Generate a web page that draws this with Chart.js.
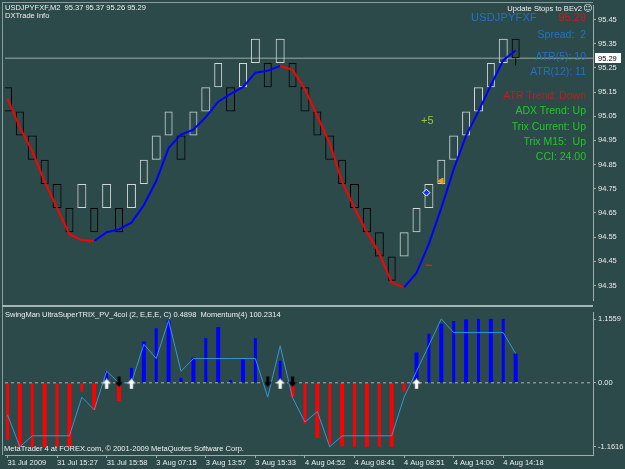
<!DOCTYPE html>
<html><head><meta charset="utf-8">
<script src="https://cdn.jsdelivr.net/npm/chart.js@4.4.1/dist/chart.umd.min.js"></script>
<style>
html,body{margin:0;padding:0;background:#2c4a4a;width:625px;height:469px;overflow:hidden;}
#wrap{position:relative;width:625px;height:469px;font-family:"Liberation Sans",Arial,sans-serif;}
canvas{position:absolute;left:0;}
.t{position:absolute;white-space:pre;line-height:1;}
.r{text-align:right;right:39px;}
.line{position:absolute;background:#8c9c9c;}
</style></head><body><div id="wrap">
<canvas id="main" width="625" height="305" style="top:0"></canvas>
<canvas id="sub" width="625" height="162" style="top:307px"></canvas>
<div class="line" style="left:2px;top:2px;width:591px;height:1px;"></div>
<div class="line" style="left:2px;top:2px;width:1px;height:453px;"></div>
<div class="line" style="left:2px;top:305px;width:591px;height:2px;background:#a8b4b4;"></div>

<div class="t" style="left:5px;top:4px;font-size:7.5px;color:#f0f0f0;">USDJPYFXF,M2  95.37 95.37 95.26 95.29</div>
<div class="t" style="left:5px;top:12px;font-size:7.5px;color:#f0f0f0;">DXTrade Info</div>
<div class="t" style="right:43px;top:5px;font-size:7.6px;color:#f0f0f0;">Update Stops to BEv2</div>
<div class="t" style="left:583px;top:4px;font-size:9px;color:#f0f0f0;font-family:'DejaVu Sans';">☺</div>
<div class="t" style="left:471px;top:11.6px;font-size:11px;color:#2272c8;letter-spacing:0.2px;">USDJPYFXF</div>
<div class="t r" style="top:11.6px;font-size:11px;color:#e01414;">95.29</div>
<div class="t r" style="top:28.7px;font-size:10.5px;color:#2272c8;">Spread:  2</div>
<div class="t r" style="top:50.7px;font-size:10.5px;color:#2272c8;">ATR(5): 10</div>
<div class="t r" style="top:65.7px;font-size:10.5px;color:#2272c8;">ATR(12): 11</div>
<div class="t r" style="top:89.7px;font-size:10.5px;color:#c81a1a;">ATR Trend: Down</div>
<div class="t r" style="top:104.7px;font-size:10.5px;color:#22c822;">ADX Trend: Up</div>
<div class="t r" style="top:120.7px;font-size:10.5px;color:#22c822;">Trix Current: Up</div>
<div class="t r" style="top:135.7px;font-size:10.5px;color:#22c822;">Trix M15:  Up</div>
<div class="t r" style="top:150.7px;font-size:10.5px;color:#22c822;">CCI: 24.00</div>
<div class="t" style="left:421px;top:114.6px;font-size:11px;color:#9ac832;">+5</div>
<div class="t" style="left:5px;top:311px;font-size:7.5px;color:#f0f0f0;">SwingMan UltraSuperTRIX_PV_4col (2, E,E,E, C) 0.4898  Momentum(4) 100.2314</div>
<div class="t" style="left:4px;top:445px;font-size:7.5px;color:#f0f0f0;">MetaTrader 4 at FOREX.com, © 2001-2009 MetaQuotes Software Corp.</div>
</div>
<script>
// ---------- data ----------
const boxIndex = [];
for (let i = 1; i <= 42; i++) boxIndex.push(i);
const brickOpen  = [95.17,95.07,94.97,94.87,94.77,94.67,94.67,94.67,94.67,94.67,94.67,94.77,94.87,94.97,94.97,94.97,95.07,95.17,95.17,95.17,95.27,95.27,95.27,95.27,95.17,95.07,94.97,94.87,94.77,94.67,94.57,94.47,94.47,94.57,94.67,94.77,94.87,94.97,95.07,95.17,95.27,95.37];
const brickClose = [95.07,94.97,94.87,94.77,94.67,94.57,94.77,94.57,94.77,94.57,94.77,94.87,94.97,95.07,94.87,95.07,95.17,95.27,95.07,95.27,95.37,95.17,95.37,95.17,95.07,94.97,94.87,94.77,94.67,94.57,94.47,94.37,94.57,94.67,94.77,94.87,94.97,95.07,95.17,95.27,95.37,95.29];
const brickLowLast = 95.26;
const maLine = [95.122,95.004,94.906,94.78,94.67,94.562,94.538,94.534,94.57,94.582,94.61,94.682,94.782,94.918,94.974,94.994,95.046,95.11,95.142,95.17,95.23,95.238,95.258,95.242,95.162,95.05,94.938,94.778,94.67,94.57,94.482,94.362,94.342,94.402,94.522,94.67,94.83,94.97,95.07,95.178,95.282,95.322];
const currentPrice = 95.29;
const priceTicks = [95.45,95.35,95.25,95.15,95.05,94.95,94.85,94.75,94.65,94.55,94.45,94.35];
const signalBlue = {x: 34.8, y: 94.734};
const signalOrange = {x: 36.0, y: 94.782};
const signalRed = {x: 35.0, y: 94.434};

const hist = [-1.035,-1.16,-1.16,-1.16,-1.16,-1.16,-0.16,-0.49,0.21,-0.33,0.27,0.75,0.99,1.13,0.09,0.46,0.81,1.01,0.05,0.43,0.81,0.0,0.40,-0.26,-0.74,-1.0,-1.12,-1.15,-1.16,-1.16,-1.16,-1.16,-0.16,0.55,0.89,1.07,1.12,1.15,1.16,1.16,1.16,0.53];
const momentum = [-0.58,-1.16,-0.96,-0.96,-0.96,-0.96,-0.26,-0.49,0.21,0.0,0.0,0.70,0.44,1.13,0.21,0.44,0.44,0.44,0.44,0.44,0.44,-0.26,0.67,-0.27,-0.71,-0.52,-1.16,-0.96,-0.96,-0.96,-0.96,-0.96,-0.26,0.21,0.68,1.16,0.91,0.91,0.91,0.91,0.91,0.53];
const upArrows = [9, 11, 23, 34];
const downArrows = [10, 22, 24];
const subTicks = [1.1559, 0, -1.1616];
const subTickLabels = ['1.1559', '0.00', '-1.1616'];
const timeTickBoxes = [1,5,9,13,17,21,25,29,33,37,41];
const timeLabels = ['31 Jul 2009','31 Jul 15:27','31 Jul 15:58','3 Aug 07:15','3 Aug 13:57','3 Aug 15:33','4 Aug 04:52','4 Aug 08:41','4 Aug 08:51','4 Aug 14:00','4 Aug 14:18'];

// ---------- styling ----------
const X_MIN = 0.8, X_MAX = 48.24;
const AXIS_COL = '#a0abab';
const TXT = '#ececec';
Chart.defaults.font.family = '"Liberation Sans", Arial, sans-serif';
Chart.defaults.font.size = 7.5;
Chart.defaults.color = TXT;

function fixY(width){ return function(s){ s.width = width; s.paddingTop = 0; s.paddingBottom = 0; s.paddingLeft = 0; s.paddingRight = 0; }; }

// odd boxes sit on half pixels, even boxes on whole pixels: split them so borders stay crisp
function brickSet(parity, thickness){
  const idx = boxIndex.map((k,i)=>i).filter(i => boxIndex[i] % 2 === parity);
  return {type:'bar', grouped:false, order:4, barThickness:thickness, borderWidth:1, borderSkipped:false, inflateAmount:0,
    backgroundColor:'rgba(0,0,0,0)',
    data: idx.map(i => ({x: boxIndex[i], y:[brickOpen[i], brickClose[i]]})),
    borderColor: idx.map(i => brickClose[i] > brickOpen[i] ? '#d2d6d6' : '#000000')};
}
function histSet(parity, thickness){
  const idx = boxIndex.map((k,i)=>i).filter(i => boxIndex[i] % 2 === parity);
  return {type:'bar', grouped:false, order:5, barThickness:thickness, borderWidth:0, inflateAmount:0,
    data: idx.map(i => ({x: boxIndex[i], y: hist[i]})),
    backgroundColor: idx.map(i => hist[i] < 0 ? '#ff0000' : '#0000ff')};
}
const lastI = boxIndex.length - 1;
const wickData = [{x: boxIndex[lastI], y:[brickLowLast, Math.min(brickOpen[lastI], brickClose[lastI])]}];

const priceLabelPlugin = {
  id: 'priceLabel',
  afterDraw(chart){
    const ys = chart.scales.y;
    const y = Math.round(ys.getPixelForValue(currentPrice));
    const c = chart.ctx;
    c.save();
    c.fillStyle = '#ffffff';
    c.fillRect(ys.left + 2, y - 5, 26, 10);
    c.fillStyle = '#000000';
    c.font = '7.5px "Liberation Sans", Arial, sans-serif';
    c.textBaseline = 'middle';
    c.fillText(currentPrice.toFixed(2), ys.left + 5, y + 0.5);
    c.restore();
  }
};

new Chart(document.getElementById('main'), {
  type: 'bar',
  data: {
    datasets: [
      {type:'line', data:[{x:X_MIN,y:currentPrice},{x:X_MAX,y:currentPrice}], borderColor:'#9aa8a8', borderWidth:1, pointRadius:0, order:6},
      {type:'bar', data: wickData, backgroundColor:'#000000', borderWidth:0, barThickness:1, grouped:false, inflateAmount:0, order:5},
      brickSet(1, 9),
      brickSet(0, 8),
      {type:'line', data: boxIndex.map((k,i)=>({x:k,y:maLine[i]})), borderWidth:2, pointRadius:0, tension:0,
        segment:{borderColor: ctx => ctx.p1.parsed.y < ctx.p0.parsed.y ? '#ff0000' : '#0000ff'}, order:2},
      {type:'line', showLine:false, data:[signalBlue], pointStyle:'rectRot', pointRadius:3.5, backgroundColor:'#1030ff', borderColor:'#ffffff', borderWidth:1, order:1},
      {type:'line', showLine:false, data:[signalOrange], pointStyle:'triangle', rotation:-90, pointRadius:3.5, backgroundColor:'#f0a020', borderColor:'#f0a020', borderWidth:1, order:1},
      {type:'line', showLine:false, data:[signalRed], pointStyle:'line', pointRadius:3, borderColor:'#ff2020', borderWidth:1, order:1}
    ]
  },
  options: {
    responsive:false, animation:false, devicePixelRatio:1,
    layout:{padding:{left:0,top:0,right:0,bottom:0}},
    plugins:{legend:{display:false}, tooltip:{enabled:false}},
    scales:{
      x:{type:'linear', min:X_MIN, max:X_MAX, offset:false, display:false, grid:{offset:false}},
      y:{type:'linear', position:'right', min:94.29, max:95.51,
        afterFit: fixY(32),
        afterBuildTicks: s => { s.ticks = priceTicks.map(v => ({value:v})); },
        ticks:{callback: v => Number(v).toFixed(2), padding:2, color:TXT, font:{size:7.5}},
        grid:{drawOnChartArea:false, drawTicks:true, tickLength:3, tickColor:AXIS_COL},
        border:{display:true, color:AXIS_COL, width:1}
      }
    }
  },
  plugins:[priceLabelPlugin]
});

function makeArrow(up, fill, edge){
  const c = document.createElement('canvas');
  c.width = 9; c.height = 11;
  const g = c.getContext('2d');
  g.beginPath();
  if (up) { g.moveTo(4.5,0.5); g.lineTo(8.5,5); g.lineTo(6,5); g.lineTo(6,10.5); g.lineTo(3,10.5); g.lineTo(3,5); g.lineTo(0.5,5); }
  else { g.moveTo(4.5,10.5); g.lineTo(8.5,6); g.lineTo(6,6); g.lineTo(6,0.5); g.lineTo(3,0.5); g.lineTo(3,6); g.lineTo(0.5,6); }
  g.closePath();
  g.fillStyle = fill; g.fill();
  g.strokeStyle = edge; g.lineWidth = 0.6; g.stroke();
  return c;
}
const upImg = makeArrow(true, '#ffffff', '#c0c0c0');
const downImg = makeArrow(false, '#000000', '#202020');

new Chart(document.getElementById('sub'), {
  type: 'bar',
  data: {
    datasets: [
      histSet(1, 3),
      histSet(0, 4),
      {type:'line', data:[{x:X_MIN,y:0},{x:X_MAX,y:0}], borderColor:'#aab4b4', borderWidth:1, borderDash:[3,3], pointRadius:0, order:4},
      {type:'line', data: boxIndex.map((k,i)=>({x:k,y:momentum[i]})), borderColor:'#3796d8', borderWidth:1, pointRadius:0, tension:0, order:3},
      {type:'line', showLine:false, data: upArrows.map(k=>({x:k,y:-0.02})), pointStyle:upImg, order:1},
      {type:'line', showLine:false, data: downArrows.map(k=>({x:k,y:0.02})), pointStyle:downImg, order:1}
    ]
  },
  options: {
    responsive:false, animation:false, devicePixelRatio:1,
    layout:{padding:{left:0,top:0,right:0,bottom:0}},
    plugins:{legend:{display:false}, tooltip:{enabled:false}},
    scales:{
      x:{type:'linear', min:X_MIN, max:X_MAX, offset:false,
        afterFit: s => { s.height = 14; s.paddingLeft = 0; s.paddingRight = 0; },
        afterBuildTicks: s => { s.ticks = timeTickBoxes.map(v => ({value:v})); },
        ticks:{autoSkip:false, maxRotation:0, align:'start', padding:0, color:TXT, font:{size:7.5},
          callback: (v, i) => timeLabels[i]},
        grid:{offset:false, drawOnChartArea:false, drawTicks:true, tickLength:3, tickColor:AXIS_COL},
        border:{display:true, color:AXIS_COL, width:1}
      },
      y:{type:'linear', position:'right', min:-1.308, max:1.2837,
        afterFit: fixY(32),
        afterBuildTicks: s => { s.ticks = subTicks.map(v => ({value:v})); },
        ticks:{callback: (v, i) => subTickLabels[i], padding:2, color:TXT, font:{size:7.5}},
        grid:{drawOnChartArea:false, drawTicks:true, tickLength:3, tickColor:AXIS_COL},
        border:{display:true, color:AXIS_COL, width:1}
      }
    }
  }
});
</script>
</body></html>
